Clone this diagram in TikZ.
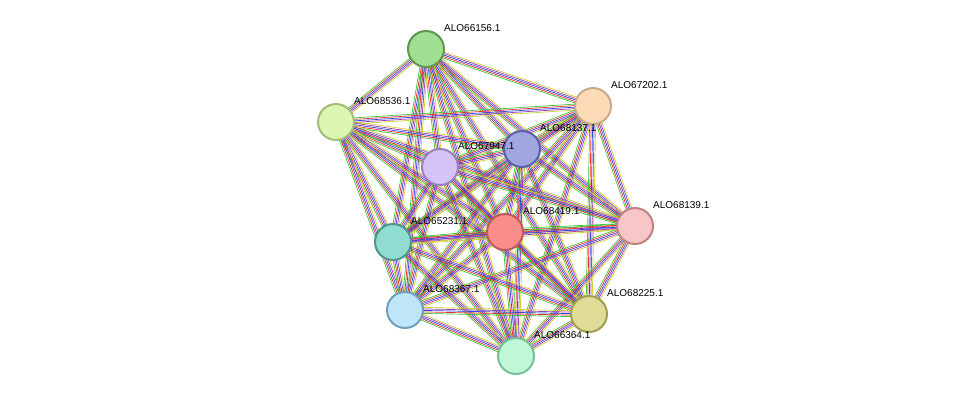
\documentclass[tikz,border=0pt]{standalone}
\usepackage{fontspec}
\setmainfont{Liberation Sans}
\usetikzlibrary{calc}
\definecolor{eg}{HTML}{3CC83C}
\definecolor{er}{HTML}{E8322E}
\definecolor{eb}{HTML}{3246E6}
\definecolor{ep}{HTML}{A03CB4}
\definecolor{ey}{HTML}{C8D232}
\tikzset{prot/.style={circle,draw,line width=2pt,minimum size=36pt,inner sep=0pt},
 lab/.style={anchor=west,font=\fontsize{10}{12}\selectfont,inner sep=1pt},
 edgeline/.style={line width=0.7pt}}
\begin{document}
\begin{tikzpicture}[x=1pt,y=-1pt]
\useasboundingbox (0,0) rectangle (976,402);
\coordinate (n1) at (426,49);
\coordinate (n2) at (593,106);
\coordinate (n3) at (336,122);
\coordinate (n4) at (522,149);
\coordinate (n5) at (440,167);
\coordinate (n6) at (635,226);
\coordinate (n7) at (505,232);
\coordinate (n8) at (393,242);
\coordinate (n9) at (405,310);
\coordinate (n10) at (589,314);
\coordinate (n11) at (516,356);
\foreach \i in {1,...,11}{
 \foreach \j in {1,...,11}{
  \ifnum\i<\j
   \foreach \o/\c in {-3/eg,-1.5/er,0/eb,1.5/ep,3/ey}{
    \draw[edgeline,\c] ($(n\i)!\o pt!90:(n\j)$) -- ($(n\j)!\o pt!-90:(n\i)$);
   }
  \fi
 }
}
\node[prot,fill={rgb,255:red,160;green,222;blue,145},draw={rgb,255:red,95;green,150;blue,80}] (p1) at (n1) {};
\node[prot,fill={rgb,255:red,252;green,218;blue,182},draw={rgb,255:red,200;green,170;blue,140}] (p2) at (n2) {};
\node[prot,fill={rgb,255:red,222;green,246;blue,180},draw={rgb,255:red,160;green,190;blue,120}] (p3) at (n3) {};
\node[prot,fill={rgb,255:red,160;green,166;blue,224},draw={rgb,255:red,90;green,96;blue,170}] (p4) at (n4) {};
\node[prot,fill={rgb,255:red,212;green,196;blue,248},draw={rgb,255:red,150;green,130;blue,190}] (p5) at (n5) {};
\node[prot,fill={rgb,255:red,248;green,198;blue,198},draw={rgb,255:red,190;green,130;blue,130}] (p6) at (n6) {};
\node[prot,fill={rgb,255:red,250;green,140;blue,140},draw={rgb,255:red,190;green,90;blue,90}] (p7) at (n7) {};
\node[prot,fill={rgb,255:red,144;green,220;blue,208},draw={rgb,255:red,80;green,150;blue,140}] (p8) at (n8) {};
\node[prot,fill={rgb,255:red,190;green,230;blue,248},draw={rgb,255:red,110;green,160;blue,190}] (p9) at (n9) {};
\node[prot,fill={rgb,255:red,222;green,220;blue,150},draw={rgb,255:red,160;green,160;blue,80}] (p10) at (n10) {};
\node[prot,fill={rgb,255:red,190;green,248;blue,214},draw={rgb,255:red,120;green,190;blue,150}] (p11) at (n11) {};
\node[lab] at ($(n1)+(17,-21)$) {ALO66156.1};
\node[lab] at ($(n2)+(17,-21)$) {ALO67202.1};
\node[lab] at ($(n3)+(17,-21)$) {ALO68536.1};
\node[lab] at ($(n4)+(17,-21)$) {ALO68137.1};
\node[lab] at ($(n5)+(17,-21)$) {ALO67947.1};
\node[lab] at ($(n6)+(17,-21)$) {ALO68139.1};
\node[lab] at ($(n7)+(17,-21)$) {ALO68419.1};
\node[lab] at ($(n8)+(17,-21)$) {ALO65231.1};
\node[lab] at ($(n9)+(17,-21)$) {ALO68367.1};
\node[lab] at ($(n10)+(17,-21)$) {ALO68225.1};
\node[lab] at ($(n11)+(17,-21)$) {ALO66364.1};
\end{tikzpicture}
\end{document}
